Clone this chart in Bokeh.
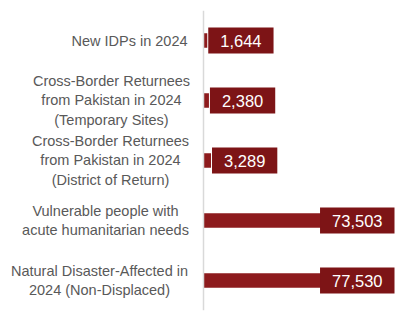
from bokeh.plotting import figure
from bokeh.models import FactorRange, ColumnDataSource, Span
from bokeh.embed import file_html
from bokeh.resources import INLINE
from bokeh.core.properties import value

categories = [
    "New IDPs in 2024",
    "Cross-Border Returnees\nfrom Pakistan in 2024\n(Temporary Sites)",
    "Cross-Border Returnees\nfrom Pakistan in 2024\n(District of Return)",
    "Vulnerable people with\nacute humanitarian needs",
    "Natural Disaster-Affected in\n2024 (Non-Displaced)",
]
values = [1644, 2380, 3289, 73503, 77530]
value_labels = ["1,644", "2,380", "3,289", "73,503", "77,530"]

X_END = 84000
FIG_W, FIG_H = 395, 317
AXIS_PX = 203  # where x=0 sits inside the figure, in px
X_START = -X_END * AXIS_PX / (FIG_W - AXIS_PX)

BAR_COLOR = "#8d1b1d"
BOX_COLOR = "#7d1416"
# horizontal offsets (screen px) of the centred category label blocks
cat_label_offsets = [-74, -92, -93, -98, -104]

p = figure(
    width=FIG_W, height=FIG_H,
    y_range=FactorRange(factors=list(reversed(categories))),
    x_range=(X_START, X_END),
    output_backend="svg", toolbar_location=None,
    min_border_left=0, min_border_right=0, min_border_top=10, min_border_bottom=7,
)
p.outline_line_color = None
p.grid.grid_line_color = None
p.xaxis.visible = False
p.yaxis.visible = False
p.background_fill_color = "white"
p.border_fill_color = "white"

src = ColumnDataSource(dict(cat=categories, val=values))
p.hbar(y="cat", right="val", left=0, height=0.24, source=src,
       fill_color=BAR_COLOR, line_color=None)

# vertical axis line
p.add_layout(Span(location=0, dimension="height", line_color="#d9d9d9", line_width=1.5))

# value labels: placed after bar end, or pinned to the right edge for long bars
small = [v < X_END * 0.5 for v in values]
lab_x = [v if s else X_END for v, s in zip(values, small)]
lab_align = ["left" if s else "right" for s in small]
lab_off = [1 if s else -1 for s in small]
lsrc = ColumnDataSource(dict(cat=categories, x=lab_x, t=value_labels,
                             al=lab_align, off=lab_off))
p.text(x="x", y="cat", text="t", source=lsrc, text_align="al", x_offset="off",
       text_baseline="middle", text_color="white",
       text_font=value("Liberation Sans"), text_font_size="16.5px",
       background_fill_color=BOX_COLOR, padding=[12, 7])

# category labels (centred multi-line blocks left of the axis)
csrc = ColumnDataSource(dict(cat=categories, x=[0] * len(categories),
                             off=cat_label_offsets))
p.text(x="x", y="cat", text="cat", x_offset="off", source=csrc,
       text_align="center", text_baseline="middle",
       text_font=value("Liberation Sans"), text_font_size="14.5px",
       text_color="#595959", text_line_height=1.2)

open("out.html", "w").write(file_html(p, INLINE))
